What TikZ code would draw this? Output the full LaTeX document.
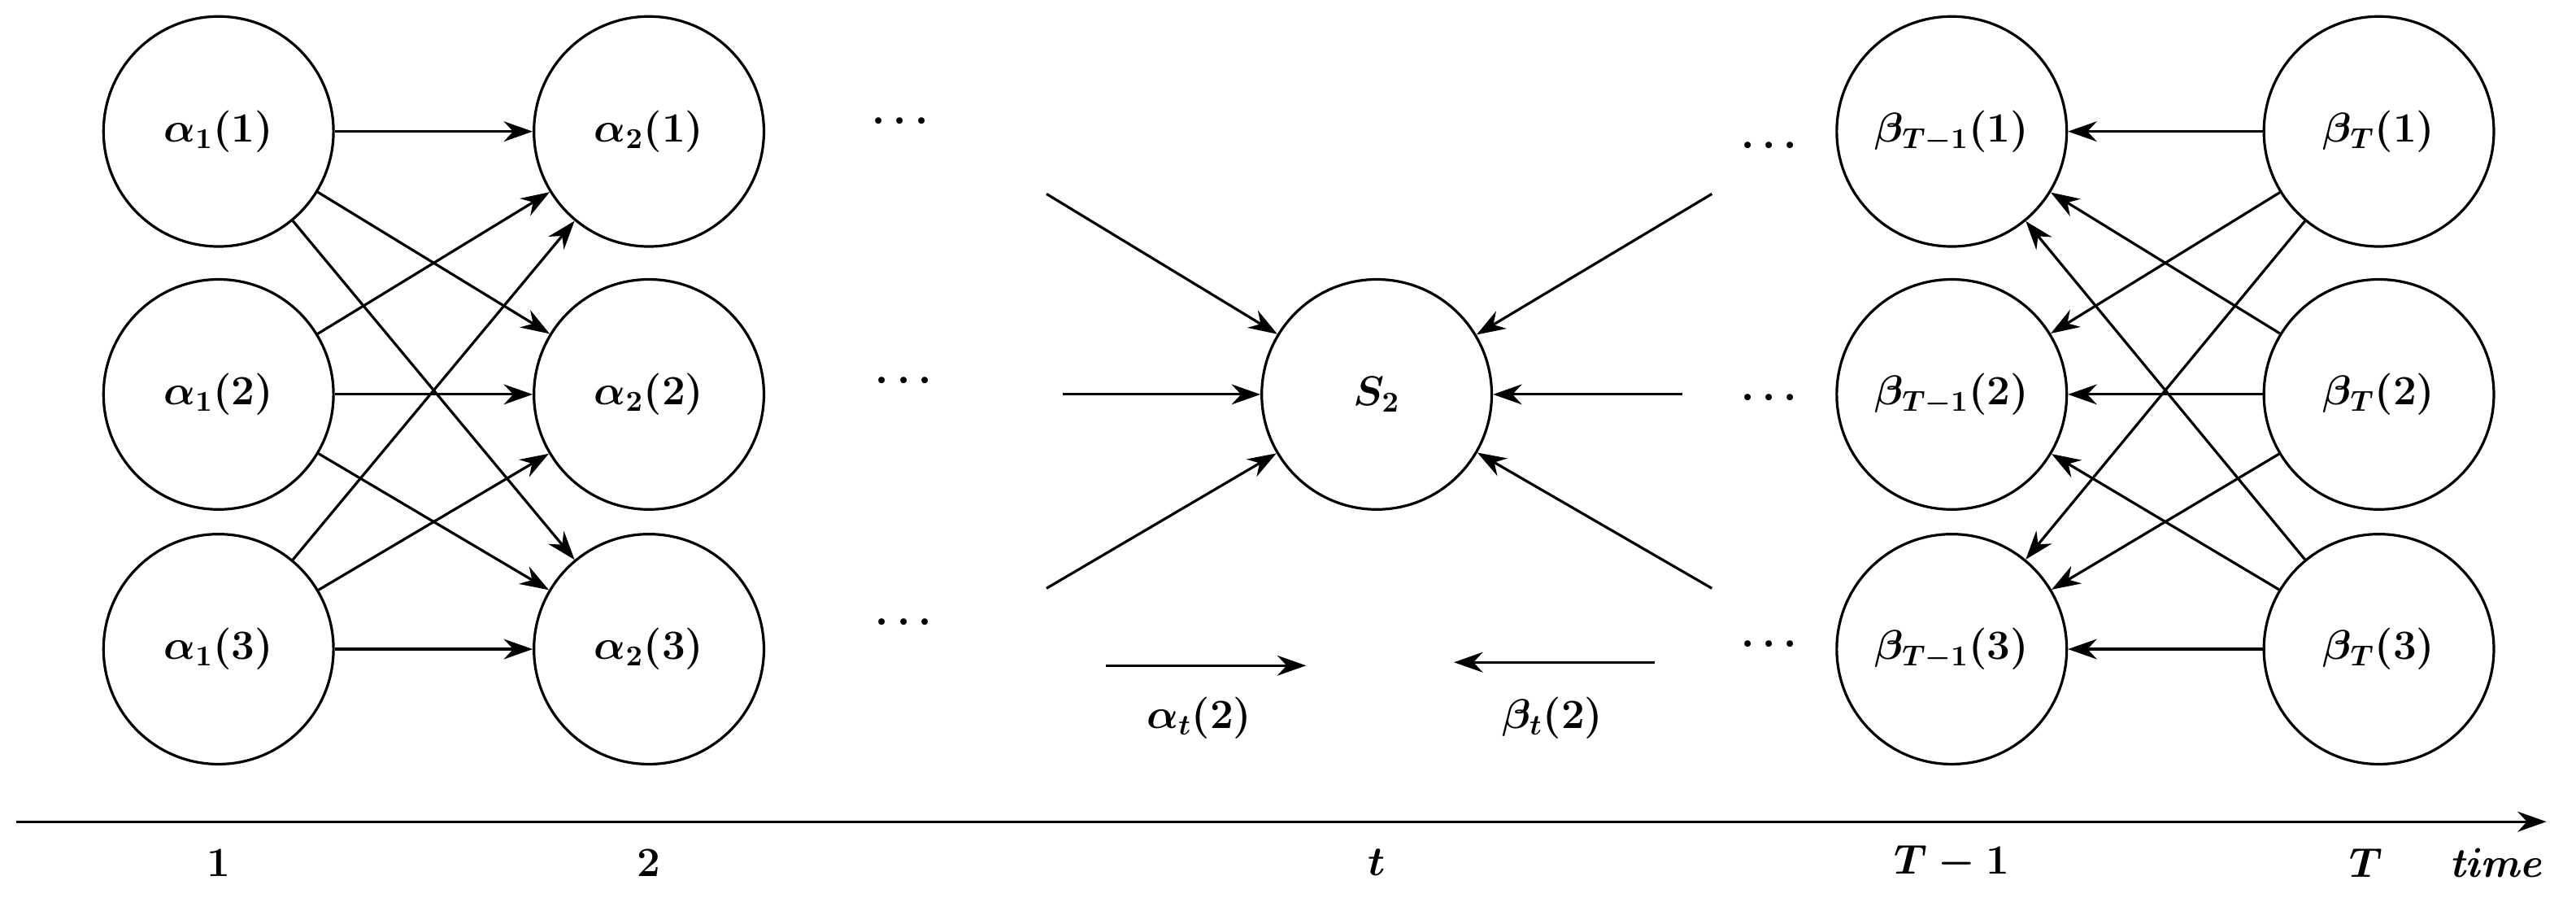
\documentclass[tikz,border=0pt]{standalone}
\usetikzlibrary{arrows.meta}
\begin{document}
\begin{tikzpicture}[x=0.02cm,y=-0.02cm,
 st/.style={circle,draw,line width=0.9pt,minimum size=2.8cm,inner sep=0pt,font=\Large\boldmath},
 ar/.style={line width=0.9pt,-{Stealth[length=10pt,width=7pt]}},
 lab/.style={font=\Large\boldmath}]
\useasboundingbox (0,0) rectangle (1568,554);
\foreach \i/\y in {1/80,2/240,3/395}{
 \node[st] (a\i) at (133,\y) {$\alpha_1(\i)$};
 \node[st] (b\i) at (395,\y) {$\alpha_2(\i)$};
 \node[st] (c\i) at (1188,\y) {$\beta_{T-1}(\i)$};
 \node[st] (d\i) at (1448,\y) {$\beta_T(\i)$};
}
\foreach \i in {1,2,3}{\foreach \j in {1,2,3}{
 \draw[ar] (a\i) -- (b\j);
 \draw[ar] (d\i) -- (c\j);
}}
\node[st] (s) at (838,240) {$S_2$};
\node[lab] (p1) at (548,74) {$\cdots$};
\node[lab] (p2) at (550,232) {$\cdots$};
\node[lab] (p3) at (550,379) {$\cdots$};
\node[lab] (q1) at (1077,89) {$\cdots$};
\node[lab] (q2) at (1077,242) {$\cdots$};
\node[lab] (q3) at (1077,392) {$\cdots$};
\coordinate (l1) at (637,118); \coordinate (l2) at (647,240); \coordinate (l3) at (637,358);
\coordinate (r1) at (1042,118); \coordinate (r2) at (1024,240); \coordinate (r3) at (1042,358);
\foreach \k in {1,2,3}{\draw[ar] (l\k) -- (s); \draw[ar] (r\k) -- (s);}
\coordinate (u1) at (673,405); \coordinate (u2) at (795,405);
\coordinate (v1) at (1007,403); \coordinate (v2) at (885,403);
\draw[ar] (u1) -- (u2); \draw[ar] (v1) -- (v2);
\node[lab] (al) at (730,437) {$\alpha_t(2)$};
\node[lab] (bl) at (945,437) {$\beta_t(2)$};
\coordinate (x0) at (10,500); \coordinate (x1) at (1550,500);
\draw[ar] (x0) -- (x1);
\node[lab] (t1) at (133,525) {$1$};
\node[lab] (t2) at (395,525) {$2$};
\node[lab] (t3) at (838,525) {$t$};
\node[lab] (t4) at (1188,525) {$T-1$};
\node[lab] (t5) at (1440,525) {$T$};
\node[lab] (t6) at (1520,525) {$\mathit{time}$};
\end{tikzpicture}
\end{document}
